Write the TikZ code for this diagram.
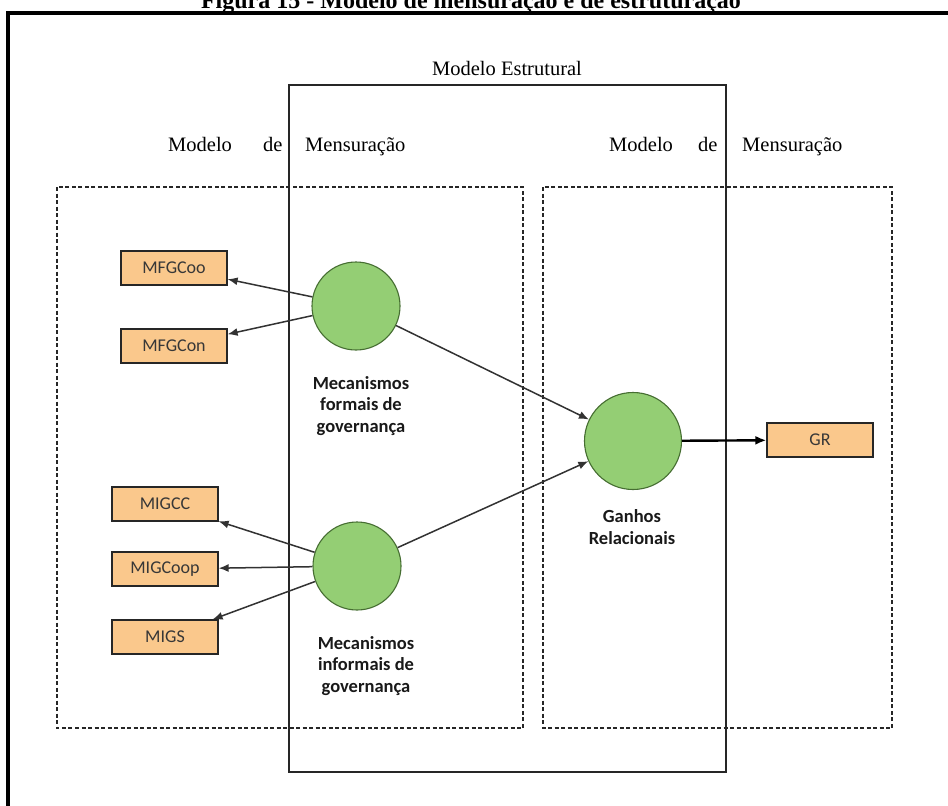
\documentclass[tikz,border=0pt]{standalone}
\usepackage{fontspec}
\setmainfont{Liberation Serif}
\newfontfamily\calibri{Carlito}
\usetikzlibrary{arrows.meta}
\definecolor{boxfill}{RGB}{250,200,140}
\definecolor{circfill}{RGB}{148,206,116}
\definecolor{circedge}{RGB}{70,110,50}
\definecolor{linegray}{RGB}{50,50,50}
\definecolor{txtgray}{RGB}{55,55,55}
\begin{document}
\begin{tikzpicture}[x=1pt,y=-1pt,
  indicator/.style={draw=black!85,line width=1.2pt,fill=boxfill,minimum width=106pt,
    minimum height=34pt,inner sep=0pt,text=txtgray,font=\calibri\fontsize{18}{18}\selectfont},
  construct/.style={circle,draw=circedge,line width=1.1pt,fill=circfill,inner sep=0pt},
  clabel/.style={align=center,text=black!90,font=\calibri\bfseries\fontsize{18.5}{21.5}\selectfont},
  serifword/.style={anchor=base west,inner sep=0pt,font=\fontsize{20.5}{20.5}\selectfont},
  dashbox/.style={draw=black!85,line width=1.1pt,dash pattern=on 4pt off 2.5pt},
  arr/.style={draw=linegray,line width=1.5pt,-{Latex[length=10pt,width=8pt]}},
  arrbold/.style={draw=black,line width=2.4pt,-{Latex[length=11pt,width=9pt]}}]
\useasboundingbox (0,0) rectangle (948,806);
\clip (0,0) rectangle (948,806);
\fill[white] (0,0) rectangle (948,806);

% caption and outer frame
\node[anchor=base,inner sep=0pt,font=\bfseries\fontsize{24}{24}\selectfont] (title) at (471,8)
  {Figura 15 - Modelo de mensuração e de estruturação};
\draw[line width=3.5pt] (8,900) -- (8,13) -- (1000,13);

% structural model frame
\draw[line width=1.2pt,draw=black!85] (289,85) rectangle (726,772);
\node[anchor=base,inner sep=0pt,font=\fontsize{20.5}{20.5}\selectfont] (struct) at (507,75) {Modelo Estrutural};

% measurement model frames
\draw[dashbox] (57,187) rectangle (523,728);
\draw[dashbox] (543,187) rectangle (892,728);
\node[serifword] (mL1) at (168,151) {Modelo};
\node[serifword] (mL2) at (263,151) {de};
\node[serifword] (mL3) at (305,151) {Mensuração};
\node[serifword] (mR1) at (609,151) {Modelo};
\node[serifword] (mR2) at (698,151) {de};
\node[serifword] (mR3) at (742,151) {Mensuração};

% latent constructs
\node[construct,minimum size=88pt] (formal) at (356,306) {};
\node[construct,minimum size=88pt] (informal) at (357,566) {};
\node[construct,minimum size=97pt] (ganhos) at (633,441) {};
\node[clabel] (formalL) at (361,406) {Mecanismos\\formais de\\governança};
\node[clabel] (informalL) at (366,666) {Mecanismos\\informais de\\governança};
\node[clabel] (ganhosL) at (632,527) {Ganhos\\Relacionais};

% indicators
\node[indicator] (mfgcoo) at (174,268) {MFGCoo};
\node[indicator] (mfgcon) at (174,346) {MFGCon};
\node[indicator] (migcc) at (165,504) {MIGCC};
\node[indicator] (migcoop) at (165,569) {MIGCoop};
\node[indicator] (migs) at (165,637) {MIGS};
\node[indicator] (gr) at (820,440) {GR};

% paths
\draw[arr] (formal) -- (mfgcoo);
\draw[arr] (formal) -- (mfgcon);
\draw[arr] (informal) -- (migcc);
\draw[arr] (informal) -- (migcoop);
\draw[arr] (informal) -- (migs);
\draw[arr] (formal) -- (ganhos);
\draw[arr] (informal) -- (ganhos);
\draw[arrbold] (ganhos) -- (gr);
\end{tikzpicture}
\end{document}
